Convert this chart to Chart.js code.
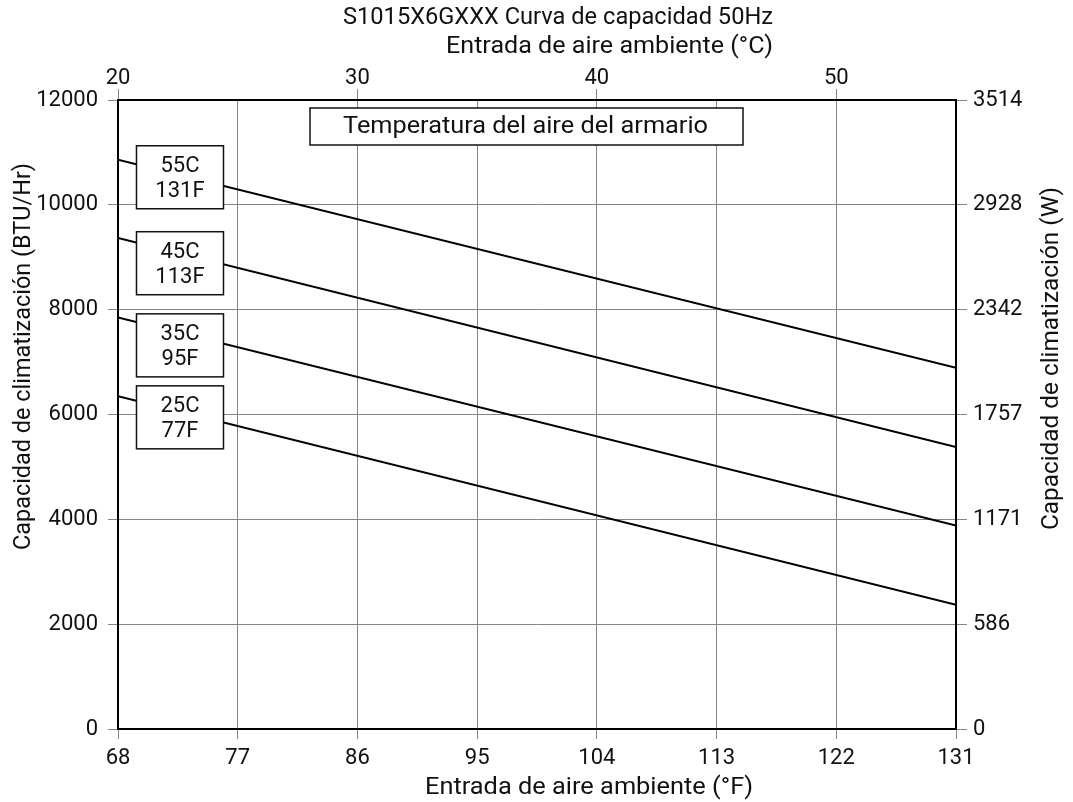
<!DOCTYPE html>
<html>
<head>
<meta charset="utf-8">
<script src="https://cdn.jsdelivr.net/npm/chart.js@4"></script>
<style>
  html, body { margin: 0; padding: 0; background: #fff; }
  #wrap { width: 1073px; height: 802px; }
</style>
</head>
<body>
<div id="wrap"><canvas id="chart" width="1073" height="802"></canvas></div>
<script>
// ambient air inlet (°F), two end points per curve
const ambientF = [68, 131];
const cap55C = [10860, 6890];
const cap45C = [9370, 5380];
const cap35C = [7850, 3880];
const cap25C = [6350, 2370];
const curveNames = [['55C', '131F'], ['45C', '113F'], ['35C', '95F'], ['25C', '77F']];

const bottomTicks = [68, 77, 86, 95, 104, 113, 122, 131];
const topTicks = [20, 30, 40, 50];
const leftTicks = [0, 2000, 4000, 6000, 8000, 10000, 12000];
const rightTicks = [0, 586, 1171, 1757, 2342, 2928, 3514];

const FONT = 'Roboto, "DejaVu Sans", sans-serif';
const tickFont = { family: FONT, size: 22 };
const gridColor = '#858585';

function series(values) {
  return ambientF.map((x, i) => ({ x: x, y: values[i] }));
}

function fixedTicks(list) {
  return (scale) => { scale.ticks = list.map((v) => ({ value: v })); };
}

const plainNumber = (v) => String(v);

// draw text stretched to the width it has in the reference
function fitText(ctx, text, cx, cy, width, rot) {
  ctx.save();
  ctx.font = '23px ' + FONT;
  const w = ctx.measureText(text).width;
  ctx.translate(cx, cy);
  if (rot) ctx.rotate(rot);
  ctx.scale(width / w, 1);
  ctx.fillStyle = '#111';
  ctx.textAlign = 'center';
  ctx.textBaseline = 'middle';
  ctx.fillText(text, 0, 0);
  ctx.restore();
}

const overlay = {
  id: 'overlay',
  afterDatasetsDraw(chart) {
    const { ctx, chartArea, scales } = chart;
    const xs = scales.x;
    const ys = scales.y;
    ctx.save();
    ctx.font = '22px ' + FONT;
    ctx.textAlign = 'center';
    ctx.textBaseline = 'middle';

    // curve labels (box centres in chart units)
    const labelF = 72.66;
    const labelAt = [10526, 8886, 7319, 5946];
    curveNames.forEach((name, i) => {
      const cx = xs.getPixelForValue(labelF);
      const cy = ys.getPixelForValue(labelAt[i]);
      const w = 87, h = 63;
      ctx.fillStyle = '#fff';
      ctx.fillRect(cx - w / 2, cy - h / 2, w, h);
      ctx.lineWidth = 1.5;
      ctx.strokeStyle = '#111';
      ctx.strokeRect(cx - w / 2, cy - h / 2, w, h);
      ctx.fillStyle = '#111';
      ctx.fillText(name[0], cx, cy - 11);
      ctx.fillText(name[1], cx, cy + 14);
    });

    // cabinet temperature box
    const bx = 310, by = chartArea.top + 8, bw = 433, bh = 37;
    ctx.fillStyle = '#fff';
    ctx.fillRect(bx, by, bw, bh);
    ctx.strokeRect(bx, by, bw, bh);
    ctx.restore();
    fitText(ctx, 'Temperatura del aire del armario', 525.5, by + bh / 2 + 1, 365);
  },
  afterDraw(chart) {
    const { ctx } = chart;
    fitText(ctx, 'S1015X6GXXX Curva de capacidad 50Hz', 558, 18, 430);
    fitText(ctx, 'Entrada de aire ambiente (°C)', 609.5, 47, 327);
    fitText(ctx, 'Entrada de aire ambiente (°F)', 589, 788, 328);
    fitText(ctx, 'Capacidad de climatización (BTU/Hr)', 24, 356.5, 387, -Math.PI / 2);
    fitText(ctx, 'Capacidad de climatización (W)', 1052, 358.5, 343, -Math.PI / 2);
  }
};

const lineStyle = {
  borderColor: '#000',
  borderWidth: 2,
  pointRadius: 0,
  tension: 0,
  fill: false
};

new Chart(document.getElementById('chart'), {
  type: 'line',
  data: {
    datasets: [
      { label: '55C', data: series(cap55C), ...lineStyle },
      { label: '45C', data: series(cap45C), ...lineStyle },
      { label: '35C', data: series(cap35C), ...lineStyle },
      { label: '25C', data: series(cap25C), ...lineStyle }
    ]
  },
  options: {
    responsive: false,
    animation: false,
    layout: { padding: 0 },
    plugins: {
      legend: { display: false },
      title: { display: false },
      tooltip: { enabled: false }
    },
    scales: {
      x: {
        type: 'linear',
        position: 'bottom',
        min: 68,
        max: 131,
        afterBuildTicks: fixedTicks(bottomTicks),
        afterFit: (s) => { s.height = 73; },
        grid: { color: gridColor, tickColor: gridColor, tickLength: 10, lineWidth: 1 },
        border: { color: '#000', width: 2 },
        ticks: { font: tickFont, color: '#111', padding: 6, maxRotation: 0, callback: plainNumber }
      },
      x2: {
        type: 'linear',
        position: 'top',
        min: 20,
        max: 55,
        afterBuildTicks: fixedTicks(topTicks),
        afterFit: (s) => { s.height = 100; },
        grid: { drawOnChartArea: false, tickColor: gridColor, tickLength: 11 },
        border: { color: '#000', width: 2 },
        ticks: { font: tickFont, color: '#111', padding: -3, maxRotation: 0, callback: plainNumber }
      },
      y: {
        type: 'linear',
        position: 'left',
        min: 0,
        max: 12000,
        afterBuildTicks: fixedTicks(leftTicks),
        afterFit: (s) => { s.width = 118; },
        grid: { color: gridColor, tickColor: gridColor, tickLength: 10, lineWidth: 1 },
        border: { color: '#000', width: 2 },
        ticks: { font: tickFont, color: '#111', padding: 10, callback: plainNumber }
      },
      y2: {
        type: 'linear',
        position: 'right',
        min: 0,
        max: 3514,
        afterBuildTicks: fixedTicks(rightTicks),
        afterFit: (s) => { s.width = 117; },
        grid: { drawOnChartArea: false, tickColor: gridColor, tickLength: 11 },
        border: { color: '#000', width: 2 },
        ticks: { font: tickFont, color: '#111', padding: 6, callback: plainNumber }
      }
    }
  },
  plugins: [overlay]
});
</script>
</body>
</html>
